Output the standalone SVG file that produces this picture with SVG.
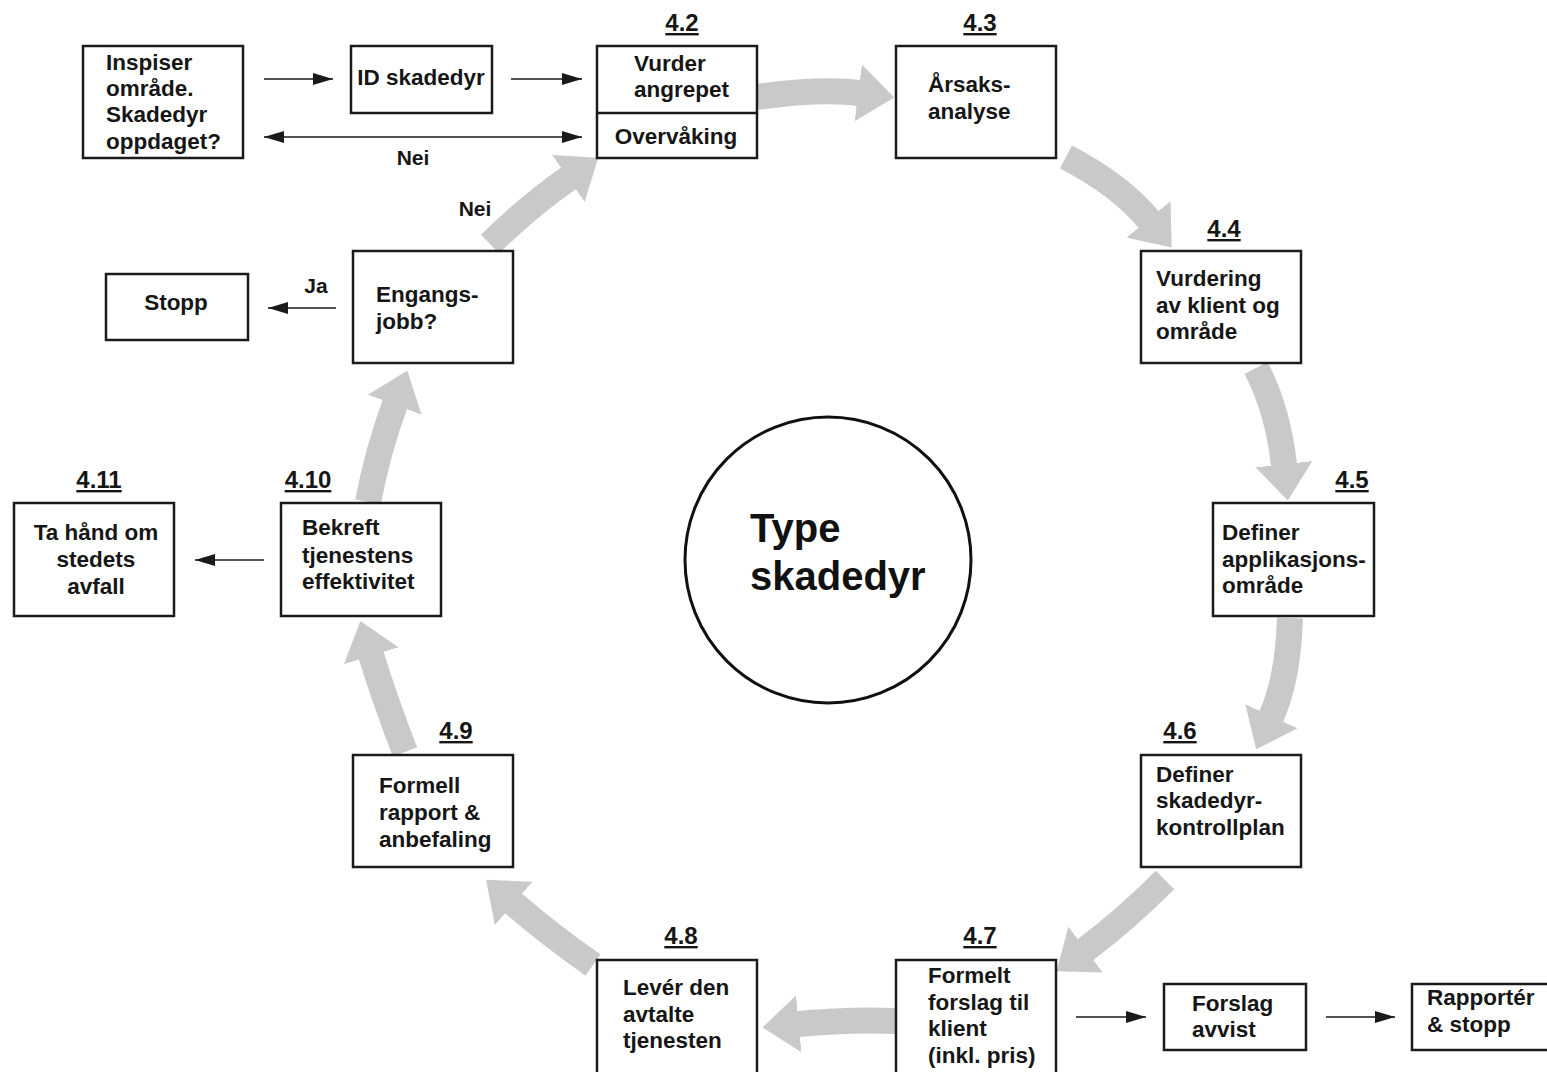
<svg xmlns="http://www.w3.org/2000/svg" width="1547" height="1072" viewBox="0 0 1547 1072">
<style>
  .box { fill: #fff; stroke: #1a1a1a; stroke-width: 2.5; }
  .t { font-family: "Liberation Sans", Arial, sans-serif; font-weight: bold; font-size: 22.5px; fill: #161616; }
  .lbl { font-family: "Liberation Sans", Arial, sans-serif; font-weight: bold; font-size: 24px; fill: #161616; text-decoration: underline; text-anchor: middle; }
  .sm { font-family: "Liberation Sans", Arial, sans-serif; font-weight: bold; font-size: 21px; fill: #161616; }
  .big { font-family: "Liberation Sans", Arial, sans-serif; font-weight: bold; font-size: 40px; fill: #111; }
  .g { fill: none; stroke: #c9c9c9; stroke-width: 26; marker-end: url(#gh); }
  .k { fill: none; stroke: #1a1a1a; stroke-width: 1.6; }
</style>
<defs>
  <marker id="gh" markerUnits="strokeWidth" markerWidth="1.4" markerHeight="2.2" viewBox="0 0 14 22" refX="0.3" refY="11" orient="auto">
    <path d="M0,0 L14,11 L0,22 z" fill="#c9c9c9"/>
  </marker>
  <marker id="kh" markerUnits="userSpaceOnUse" markerWidth="20" markerHeight="12" viewBox="0 0 20 12" refX="20" refY="6" orient="auto-start-reverse">
    <path d="M0,0 L20,6 L0,12 z" fill="#1a1a1a"/>
  </marker>
</defs>
<rect width="1547" height="1072" fill="#fff"/>

<g id="connectors">
  <path class="g" d="M757,97 Q820,88 859,93"/>
  <path class="g" d="M1066,157 Q1120,185 1149,220"/>
  <path class="g" d="M1256,368 Q1278,410 1284,465"/>
  <path class="g" d="M1290,618 Q1288,680 1271,717"/>
  <path class="g" d="M1165,880 Q1125,920 1085,950"/>
  <path class="g" d="M896,1021 Q850,1019 798,1024"/>
  <path class="g" d="M593,965 Q550,935 513,903"/>
  <path class="g" d="M405,752 Q385,700 371,655"/>
  <path class="g" d="M368,502 Q378,450 395,404"/>
  <path class="g" d="M490,244 Q530,205 569,178"/>

  <line class="k" x1="264" y1="79" x2="333" y2="79" marker-end="url(#kh)"/>
  <line class="k" x1="511" y1="79" x2="582" y2="79" marker-end="url(#kh)"/>
  <line class="k" x1="264" y1="137" x2="582" y2="137" marker-start="url(#kh)" marker-end="url(#kh)"/>
  <line class="k" x1="336" y1="308" x2="268" y2="308" marker-end="url(#kh)"/>
  <line class="k" x1="264" y1="560" x2="195" y2="560" marker-end="url(#kh)"/>
  <line class="k" x1="1076" y1="1017" x2="1146" y2="1017" marker-end="url(#kh)"/>
  <line class="k" x1="1326" y1="1017" x2="1395" y2="1017" marker-end="url(#kh)"/>
  <text class="sm" x="413" y="165" text-anchor="middle">Nei</text>
  <text class="sm" x="475" y="216" text-anchor="middle">Nei</text>
  <text class="sm" x="316" y="293" text-anchor="middle">Ja</text>
</g>

<g id="inspiser">
  <rect class="box" x="83" y="46" width="160" height="112"/>
  <text class="t" x="106" y="70">Inspiser</text>
  <text class="t" x="106" y="96">område.</text>
  <text class="t" x="106" y="122">Skadedyr</text>
  <text class="t" x="106" y="149">oppdaget?</text>
</g>
<g id="id-skadedyr">
  <rect class="box" x="351" y="46" width="141" height="67"/>
  <text class="t" x="421" y="85" text-anchor="middle">ID skadedyr</text>
</g>
<g id="n4-2">
  <text class="lbl" x="682" y="31">4.2</text>
  <rect class="box" x="597" y="46" width="160" height="112"/>
  <line x1="597" y1="113" x2="757" y2="113" stroke="#1a1a1a" stroke-width="2.5"/>
  <text class="t" x="634" y="71">Vurder</text>
  <text class="t" x="634" y="97">angrepet</text>
  <text class="t" x="676" y="144" text-anchor="middle">Overvåking</text>
</g>
<g id="n4-3">
  <text class="lbl" x="980" y="31">4.3</text>
  <rect class="box" x="896" y="46" width="160" height="112"/>
  <text class="t" x="928" y="92">Årsaks-</text>
  <text class="t" x="928" y="119">analyse</text>
</g>
<g id="n4-4">
  <text class="lbl" x="1224" y="237">4.4</text>
  <rect class="box" x="1141" y="251" width="160" height="112"/>
  <text class="t" x="1156" y="286">Vurdering</text>
  <text class="t" x="1156" y="313">av klient og</text>
  <text class="t" x="1156" y="339">område</text>
</g>
<g id="n4-5">
  <text class="lbl" x="1352" y="488">4.5</text>
  <rect class="box" x="1213" y="503" width="161" height="113"/>
  <text class="t" x="1222" y="540">Definer</text>
  <text class="t" x="1222" y="567">applikasjons-</text>
  <text class="t" x="1222" y="593">område</text>
</g>
<g id="n4-6">
  <text class="lbl" x="1180" y="739">4.6</text>
  <rect class="box" x="1141" y="755" width="160" height="112"/>
  <text class="t" x="1156" y="782">Definer</text>
  <text class="t" x="1156" y="808">skadedyr-</text>
  <text class="t" x="1156" y="835">kontrollplan</text>
</g>
<g id="n4-7">
  <text class="lbl" x="980" y="944">4.7</text>
  <rect class="box" x="896" y="960" width="160" height="120"/>
  <text class="t" x="928" y="983">Formelt</text>
  <text class="t" x="928" y="1010">forslag til</text>
  <text class="t" x="928" y="1036">klient</text>
  <text class="t" x="928" y="1063">(inkl. pris)</text>
</g>
<g id="forslag-avvist">
  <rect class="box" x="1164" y="984" width="142" height="66"/>
  <text class="t" x="1192" y="1011">Forslag</text>
  <text class="t" x="1192" y="1037">avvist</text>
</g>
<g id="rapporter">
  <rect class="box" x="1412" y="984" width="145" height="66"/>
  <text class="t" x="1427" y="1005">Rapportér</text>
  <text class="t" x="1427" y="1032">&amp; stopp</text>
</g>
<g id="n4-8">
  <text class="lbl" x="681" y="944">4.8</text>
  <rect class="box" x="597" y="960" width="160" height="120"/>
  <text class="t" x="623" y="995">Levér den</text>
  <text class="t" x="623" y="1022">avtalte</text>
  <text class="t" x="623" y="1048">tjenesten</text>
</g>
<g id="n4-9">
  <text class="lbl" x="456" y="739">4.9</text>
  <rect class="box" x="353" y="755" width="160" height="112"/>
  <text class="t" x="379" y="793">Formell</text>
  <text class="t" x="379" y="820">rapport &amp;</text>
  <text class="t" x="379" y="847">anbefaling</text>
</g>
<g id="n4-10">
  <text class="lbl" x="308" y="488">4.10</text>
  <rect class="box" x="281" y="503" width="160" height="113"/>
  <text class="t" x="302" y="535">Bekreft</text>
  <text class="t" x="302" y="563">tjenestens</text>
  <text class="t" x="302" y="589">effektivitet</text>
</g>
<g id="n4-11">
  <text class="lbl" x="99" y="488">4.11</text>
  <rect class="box" x="14" y="503" width="160" height="113"/>
  <text class="t" x="96" y="540" text-anchor="middle">Ta hånd om</text>
  <text class="t" x="96" y="567" text-anchor="middle">stedets</text>
  <text class="t" x="96" y="594" text-anchor="middle">avfall</text>
</g>
<g id="engangs">
  <rect class="box" x="353" y="251" width="160" height="112"/>
  <text class="t" x="376" y="302">Engangs-</text>
  <text class="t" x="376" y="329">jobb?</text>
</g>
<g id="stopp">
  <rect class="box" x="106" y="274" width="142" height="66"/>
  <text class="t" x="176" y="310" text-anchor="middle">Stopp</text>
</g>
<g id="type-skadedyr">
  <circle cx="828" cy="560" r="143" fill="#fff" stroke="#111" stroke-width="3"/>
  <text class="big" x="750" y="542">Type</text>
  <text class="big" x="750" y="590">skadedyr</text>
</g>
</svg>
